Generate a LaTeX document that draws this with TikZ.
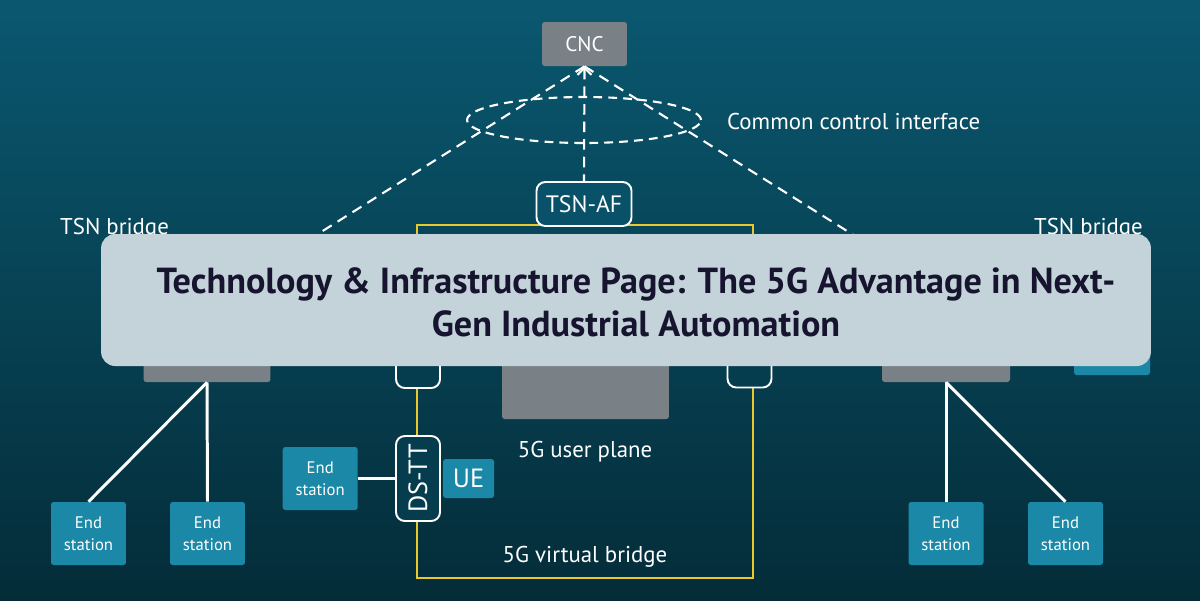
\documentclass[tikz,border=0pt]{standalone}
\usepackage{fontspec}
\setmainfont{PT Sans}
\usetikzlibrary{arrows.meta,positioning,shapes.geometric}
\definecolor{bgtop}{HTML}{0A5870}
\definecolor{bgbot}{HTML}{042C38}
\definecolor{boxgray}{HTML}{7A8186}
\definecolor{esteal}{HTML}{1A88A6}
\definecolor{vbyellow}{HTML}{E8C82A}
\definecolor{ttfill}{HTML}{053D4E}
\definecolor{bannerbg}{HTML}{C3D3D9}
\definecolor{bannertx}{HTML}{16142E}

\begin{document}
\begin{tikzpicture}[x=0.02cm,y=-0.02cm,
    lbl/.style={text=white,font=\fontsize{13}{15}\selectfont},
    gbox/.style={fill=boxgray,rounded corners=1.5pt,inner sep=0pt},
    es/.style={fill=esteal,rounded corners=1.5pt,inner sep=0pt,minimum width=1.5cm,minimum height=1.26cm,
      text=white,align=center,font=\fontsize{9.5}{12.5}\selectfont},
    tt/.style={draw=white,line width=1.1pt,rounded corners=5pt,inner sep=0pt,minimum width=0.88cm,
      minimum height=1.68cm,fill=ttfill,text=white},
    dsh/.style={white,line width=1.2pt,dash pattern=on 6pt off 4pt},
    wire/.style={white,line width=1.7pt}]
  \fill[top color=bgtop,bottom color=bgbot] (0,0) rectangle (1200,600);
  \useasboundingbox (0,0) rectangle (1200,600);

  % control plane
  \node[gbox,minimum width=1.7cm,minimum height=0.88cm,text=white,font=\fontsize{12}{14}\selectfont] (cnc) at (584.5,44) {CNC};
  \node[draw=white,dsh,dash pattern=on 5pt off 3.5pt,ellipse,minimum width=4.68cm,minimum height=0.92cm,inner sep=0pt] (ring) at (584,120) {};
  \node[lbl,anchor=west] (cci) at (721,121) {Common control interface};
  \coordinate (lt) at (197,310);
  \coordinate (rt) at (973,310);

  % 5G virtual bridge
  \draw[vbyellow,line width=1.5pt] (417,225) rectangle (753,578);
  \node[tt,fill=bgtop!85!bgbot,minimum width=1.9cm,minimum height=0.88cm,font=\fontsize{13.5}{15}\selectfont] (tsnaf) at (584,204) {TSN-AF};
  \draw[dsh] (cnc.south) -- (lt);
  \draw[dsh] (cnc.south) -- (rt);
  \draw[dsh,{Straight Barb[length=4pt,width=8pt]}-] (cnc.south) -- (tsnaf.north);

  \node[lbl,anchor=west] (tbl) at (54,229) {TSN bridge};
  \node[lbl,anchor=east] (tbr) at (1149,229) {TSN bridge};

  \node[gbox,minimum width=2.54cm,minimum height=1.44cm] (lbr) at (207,346) {};
  \node[gbox,minimum width=2.56cm,minimum height=1.44cm] (rbr) at (946,346) {};
  \node[es,minimum width=1.52cm,minimum height=1.2cm] (rx) at (1112,345) {};
  \node[gbox,minimum width=3.34cm,minimum height=1.78cm] (upl) at (585.5,374.5) {};
  \node[tt] (dsu) at (418,346) {};
  \node[tt] (nwtt) at (749.5,345.5) {};

  \node[tt,minimum height=1.7cm,font=\fontsize{15}{17}\selectfont] (dstt) at (418,478.5) {\rotatebox{90}{DS-TT}};
  \node[es,right=1pt of dstt,minimum width=1.02cm,minimum height=0.78cm,font=\fontsize{15}{17}\selectfont] (ue) {UE};
  \node[es,left=0.74cm of dstt] (esm) {End\\station};
  \draw[wire] (esm) -- (dstt);

  \node[lbl] (uplt) at (585,452) {5G user plane};
  \node[lbl] (vbt) at (585,557) {5G virtual bridge};

  % end stations
  \node[es] (es1) at (88.5,533.5) {End\\station};
  \node[es] (es2) at (207.5,533.5) {End\\station};
  \node[es] (es3) at (946,533.5) {End\\station};
  \node[es] (es4) at (1065.5,533.5) {End\\station};
  \draw[wire] (lbr.south) -- (es1.north);
  \draw[wire] (lbr.south) -- (es2.north);
  \draw[wire] (rbr.south) -- (es3.north);
  \draw[wire] (rbr.south) -- (es4.north);

  % banner
  \node[fill=bannerbg,rounded corners=8pt,minimum width=21cm,minimum height=2.64cm,inner sep=0pt] (bn) at (626,300) {};
  \node[text=bannertx,font=\bfseries\fontsize{20.6}{24.4}\selectfont,align=center] (bt) at (636,302)
    {Technology \& Infrastructure Page: The 5G Advantage in Next-\\Gen Industrial Automation};
\end{tikzpicture}
\end{document}
